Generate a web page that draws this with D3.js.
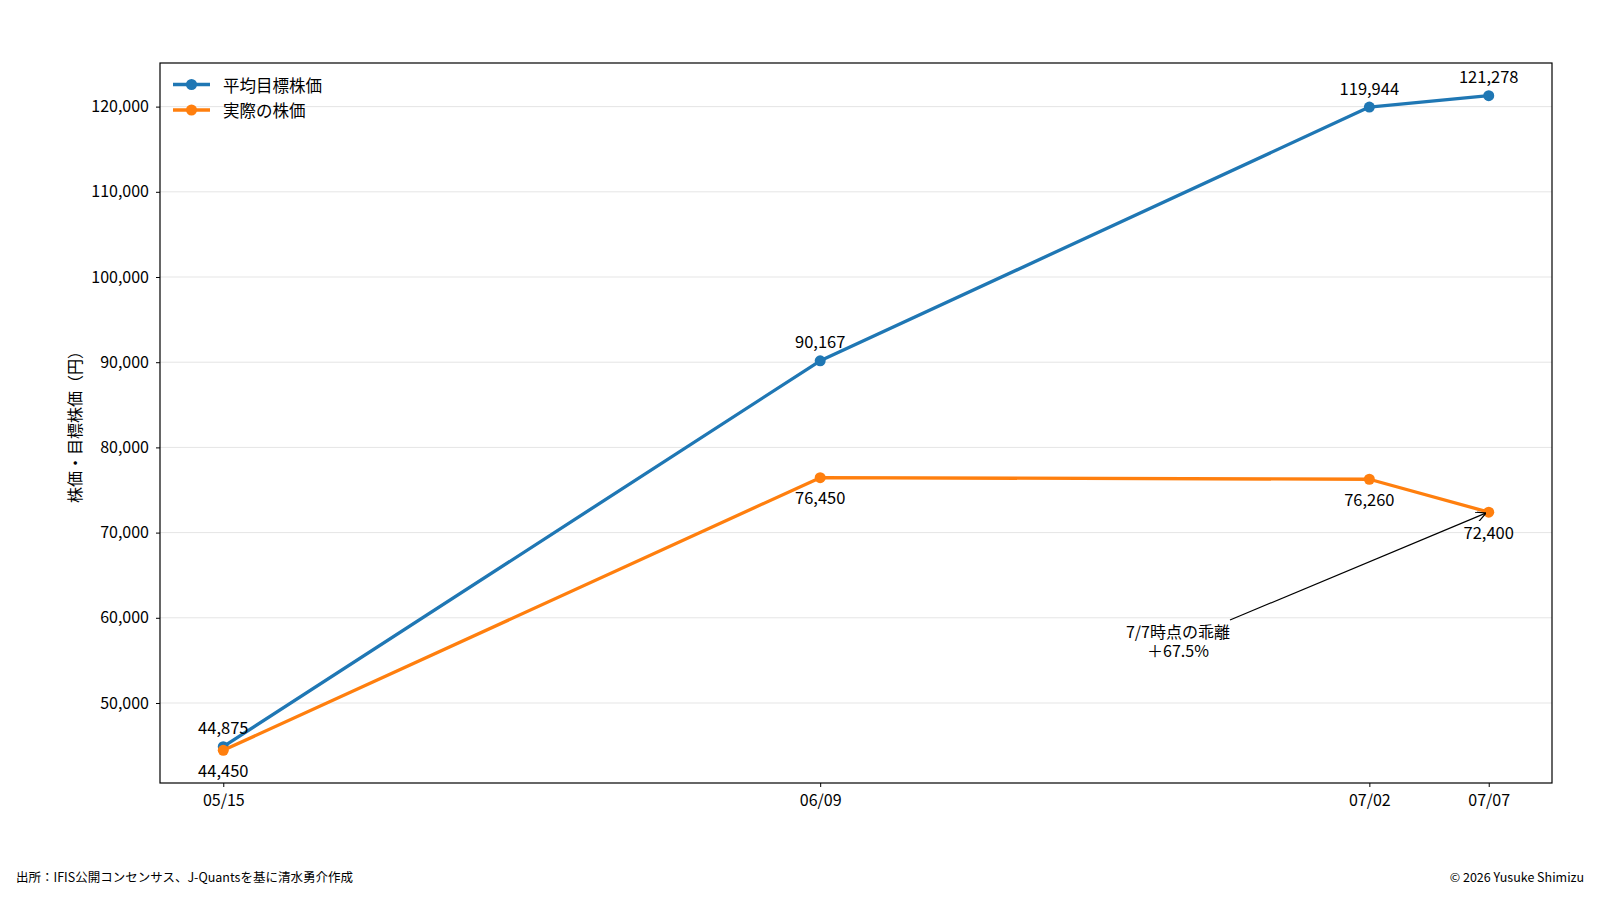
<!DOCTYPE html>
<html>
<head>
<meta charset="utf-8">
<script src="https://cdn.jsdelivr.net/npm/d3@7"></script>
<style>
  body { margin: 0; background: #fff; }
  svg text { font-family: "Noto Sans CJK JP", "Noto Sans", sans-serif; fill: #000; }
</style>
</head>
<body>
<svg id="chart" width="1600" height="900"></svg>
<script>
// data
var dates = ["2025-05-15", "2025-06-09", "2025-07-02", "2025-07-07"];
var dateLabels = ["05/15", "06/09", "07/02", "07/07"];
var targetPrice = [44875, 90167, 119944, 121278];
var actualPrice = [44450, 76450, 76260, 72400];
var yTicks = [50000, 60000, 70000, 80000, 90000, 100000, 110000, 120000];
var seriesNames = ["平均目標株価", "実際の株価"];
var seriesColors = ["#1f77b4", "#ff7f0e"];

var margin = {left: 160, right: 48, top: 63, bottom: 117};
var width = 1600, height = 900;
var svg = d3.select("#chart");

var parse = d3.timeParse("%Y-%m-%d");
var xs = dates.map(parse);

// matplotlib-style 5% padding
var xExt = d3.extent(xs);
var xPad = (xExt[1] - xExt[0]) * 0.05;
var x = d3.scaleTime()
  .domain([new Date(+xExt[0] - xPad), new Date(+xExt[1] + xPad)])
  .range([margin.left, width - margin.right]);

var allVals = targetPrice.concat(actualPrice);
var yMin = d3.min(allVals), yMax = d3.max(allVals);
var yPad = (yMax - yMin) * 0.05;
var y = d3.scaleLinear()
  .domain([yMin - yPad, yMax + yPad])
  .range([height - margin.bottom, margin.top]);

// grid
svg.append("g")
  .selectAll("line")
  .data(yTicks)
  .join("line")
  .attr("x1", margin.left).attr("x2", width - margin.right)
  .attr("y1", d => y(d)).attr("y2", d => y(d))
  .style("stroke", "#e5e5e5")
  .style("stroke-width", 1);

// axes
var yAxis = svg.append("g")
  .attr("transform", "translate(" + margin.left + ",0)")
  .call(d3.axisLeft(y).tickValues(yTicks).tickFormat(d3.format(",")).tickSizeOuter(0).tickSize(4).tickPadding(7));
yAxis.select(".domain").remove();
yAxis.selectAll("text").style("font-size", "16px");

var xAxis = svg.append("g")
  .attr("transform", "translate(0," + (height - margin.bottom) + ")")
  .call(d3.axisBottom(x).tickValues(xs).tickFormat((d, i) => dateLabels[i]).tickSizeOuter(0).tickSize(4).tickPadding(8));
xAxis.select(".domain").remove();
xAxis.selectAll("text").style("font-size", "16px");

svg.append("rect")
  .attr("x", margin.left).attr("y", margin.top)
  .attr("width", width - margin.left - margin.right)
  .attr("height", height - margin.top - margin.bottom)
  .style("fill", "none")
  .style("stroke", "#000")
  .style("stroke-width", 1.2);

// y label
svg.append("text")
  .attr("transform", "translate(74," + ((margin.top + height - margin.bottom) / 2) + ") rotate(-90)")
  .attr("text-anchor", "middle")
  .attr("dominant-baseline", "central")
  .style("font-size", "16px")
  .text("株価・目標株価（円）");

// series
var series = [targetPrice, actualPrice];
var line = d3.line().x((d, i) => x(xs[i])).y(d => y(d));

series.forEach(function (vals, s) {
  var g = svg.append("g");
  g.append("path")
    .datum(vals)
    .attr("d", line)
    .style("fill", "none")
    .style("stroke", seriesColors[s])
    .style("stroke-width", 3.3)
    .style("stroke-linejoin", "round");
  g.selectAll("circle")
    .data(vals)
    .join("circle")
    .attr("cx", (d, i) => x(xs[i]))
    .attr("cy", d => y(d))
    .attr("r", 5.5)
    .style("fill", seriesColors[s]);
  // value labels: above for target, below for actual
  var off = s === 0 ? -19.5 : 19.5;
  g.selectAll("text")
    .data(vals)
    .join("text")
    .attr("x", (d, i) => x(xs[i]))
    .attr("y", d => y(d) + off)
    .attr("text-anchor", "middle")
    .attr("dominant-baseline", "central")
    .style("font-size", "16.5px")
    .text(d => d3.format(",")(d));
});

// legend
var legend = svg.append("g");
seriesNames.forEach(function (name, i) {
  var ly = 84.5 + i * 25.5;
  legend.append("line")
    .attr("x1", 173).attr("x2", 210)
    .attr("y1", ly).attr("y2", ly)
    .style("stroke", seriesColors[i])
    .style("stroke-width", 3.3);
  legend.append("circle")
    .attr("cx", 191.5).attr("cy", ly).attr("r", 5.5)
    .style("fill", seriesColors[i]);
  legend.append("text")
    .attr("x", 223).attr("y", ly)
    .attr("dominant-baseline", "central")
    .style("font-size", "16.5px")
    .text(name);
});

// annotation arrow
var last = xs.length - 1;
var gap = (targetPrice[last] / actualPrice[last] - 1) * 100;
var defs = svg.append("defs");
defs.append("marker")
  .attr("id", "arrow")
  .attr("viewBox", "0 0 10 10")
  .attr("refX", 9.5).attr("refY", 5)
  .attr("markerWidth", 10).attr("markerHeight", 10)
  .attr("markerUnits", "userSpaceOnUse")
  .attr("orient", "auto")
  .append("path")
  .attr("d", "M0,0 L10,5 L0,10")
  .style("fill", "none")
  .style("stroke", "#000")
  .style("stroke-width", 1.2);

var ax = x(xs[last]) - 3, ay = y(actualPrice[last]) + 1;
svg.append("line")
  .attr("x1", 1230).attr("y1", 620)
  .attr("x2", ax).attr("y2", ay)
  .style("stroke", "#000")
  .style("stroke-width", 1.2)
  .attr("marker-end", "url(#arrow)");

var ann = svg.append("g")
  .attr("text-anchor", "middle")
  .style("font-size", "16px");
ann.append("text").attr("x", 1178).attr("y", 630.5).attr("dominant-baseline", "central").text("7/7時点の乖離");
ann.append("text").attr("x", 1178).attr("y", 650).attr("dominant-baseline", "central").text("＋" + gap.toFixed(1) + "%");

// footer
svg.append("text")
  .attr("x", 16).attr("y", 882)
  .style("font-size", "12.5px")
  .text("出所：IFIS公開コンセンサス、J-Quantsを基に清水勇介作成");
svg.append("text")
  .attr("x", 1584).attr("y", 882)
  .attr("text-anchor", "end")
  .style("font-size", "12.5px")
  .text("© 2026 Yusuke Shimizu");
</script>
</body>
</html>
